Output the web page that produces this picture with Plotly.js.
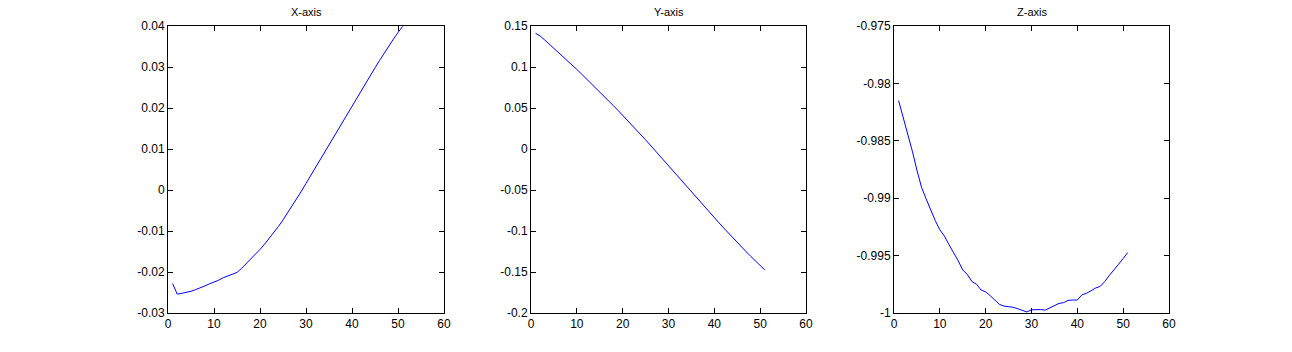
<!DOCTYPE html>
<html>
<head>
<meta charset="utf-8">
<script src="https://cdn.plot.ly/plotly-3.0.1.min.js"></script>
<style>
  html, body { margin: 0; padding: 0; background: #ffffff; }
  #chart { width: 1292px; height: 352px; }
</style>
</head>
<body>
<div id="chart"></div>
<script>
// ---- data ----
const sampleIndex = [1,2,3,4,5,6,7,8,9,10,11,12,13,14,15,16,17,18,19,20,21,22,23,24,25,26,27,28,29,30,31,32,33,34,35,36,37,38,39,40,41,42,43,44,45,46,47,48,49,50,51];

const xAxisValues = [-0.0228,-0.0254,-0.0252,-0.0250,-0.0247,-0.0243,-0.0239,-0.0234,-0.0229,-0.0225,
  -0.0220,-0.0214,-0.0210,-0.0205,-0.0201,-0.0191,-0.0180,-0.0169,-0.0157,-0.0145,
  -0.0132,-0.0118,-0.0104,-0.0089,-0.0073,-0.0056,-0.0039,-0.0021,-0.0003,0.0016,
  0.0035,0.0054,0.0073,0.0092,0.0111,0.0130,0.0149,0.0168,0.0187,0.0206,
  0.0225,0.0244,0.0262,0.0280,0.0298,0.0316,0.0334,0.0351,0.0368,0.0384,0.0399];

const yAxisValues = [0.1411,0.1378,0.1329,0.1279,0.1229,0.1178,0.1127,0.1075,0.1023,0.0970,
  0.0916,0.0862,0.0807,0.0752,0.0696,0.0640,0.0584,0.0527,0.0470,0.0412,
  0.0354,0.0295,0.0235,0.0174,0.0112,0.0049,-0.0015,-0.0079,-0.0143,-0.0207,
  -0.0270,-0.0333,-0.0396,-0.0459,-0.0522,-0.0585,-0.0648,-0.0711,-0.0774,-0.0837,
  -0.0899,-0.0961,-0.1022,-0.1082,-0.1141,-0.1199,-0.1256,-0.1312,-0.1367,-0.1421,-0.1475];

const zAxisValues = [-0.98150,-0.98300,-0.98425,-0.98590,-0.98755,-0.98905,-0.99005,-0.99105,-0.99195,-0.99275,
  -0.99330,-0.99405,-0.99470,-0.99545,-0.99625,-0.99665,-0.99726,-0.99749,-0.99800,-0.99816,
  -0.99850,-0.99885,-0.99925,-0.99940,-0.99942,-0.99950,-0.99963,-0.99978,-0.99991,-0.99972,
  -0.99969,-0.99970,-0.99975,-0.99955,-0.99932,-0.99916,-0.99910,-0.99890,-0.99887,-0.99887,
  -0.99842,-0.99828,-0.99806,-0.99782,-0.99768,-0.99725,-0.99672,-0.99628,-0.99575,-0.99525,-0.99473];

const panelTitles = ["X-axis", "Y-axis", "Z-axis"];

const xTickVals = [0,10,20,30,40,50,60];
const xTickText = ["0","10","20","30","40","50","60"];

const y1TickVals = [-0.03,-0.02,-0.01,0,0.01,0.02,0.03,0.04];
const y1TickText = ["-0.03","-0.02","-0.01","0","0.01","0.02","0.03","0.04"];
const y2TickVals = [-0.2,-0.15,-0.1,-0.05,0,0.05,0.1,0.15];
const y2TickText = ["-0.2","-0.15","-0.1","-0.05","0","0.05","0.1","0.15"];
const y3TickVals = [-1,-0.995,-0.99,-0.985,-0.98,-0.975];
const y3TickText = ["-1","-0.995","-0.99","-0.985","-0.98","-0.975"];

// ---- layout ----
const W = 1292, H = 352;
const font = {family: "Liberation Sans, Arial, sans-serif", size: 12, color: "#000"};
const domains = [[168/W, 444/W], [531/W, 806/W], [894/W, 1169/W]];
const yDom = [1 - 313/H, 1 - 26/H];

function xa(d) {
  return {domain: d, range: [0, 60], tickvals: xTickVals, ticktext: xTickText,
    ticks: "inside", ticklen: 5, tickcolor: "#000", tickwidth: 1,
    showline: true, linecolor: "#000", linewidth: 1, mirror: "ticks",
    showgrid: false, zeroline: false, tickfont: font, fixedrange: true};
}
function ya(anchor, r, tv, tt) {
  return {domain: yDom, anchor: anchor, range: r, tickvals: tv, ticktext: tt,
    ticks: "inside", ticklen: 5, tickcolor: "#000", tickwidth: 1,
    showline: true, linecolor: "#000", linewidth: 1, mirror: "ticks",
    showgrid: false, zeroline: false, tickfont: font, fixedrange: true};
}

const series = [xAxisValues, yAxisValues, zAxisValues];
const traces = series.map((vals, i) => ({
  type: "scatter", mode: "lines", x: sampleIndex, y: vals,
  xaxis: i === 0 ? "x" : "x" + (i + 1),
  yaxis: i === 0 ? "y" : "y" + (i + 1),
  line: {color: "#0000ff", width: 1}, hoverinfo: "skip", showlegend: false
}));

const layout = {
  width: W, height: H,
  margin: {l: 0, r: 0, t: 0, b: 0},
  paper_bgcolor: "#ffffff", plot_bgcolor: "#ffffff",
  font: font, showlegend: false,
  xaxis: Object.assign(xa(domains[0]), {anchor: "y"}),
  xaxis2: Object.assign(xa(domains[1]), {anchor: "y2"}),
  xaxis3: Object.assign(xa(domains[2]), {anchor: "y3"}),
  yaxis: ya("x", [-0.03, 0.04], y1TickVals, y1TickText),
  yaxis2: ya("x2", [-0.2, 0.15], y2TickVals, y2TickText),
  yaxis3: ya("x3", [-1, -0.975], y3TickVals, y3TickText),
  annotations: panelTitles.map((t, i) => ({
    text: t, xref: "paper", yref: "paper",
    x: (domains[i][0] + domains[i][1]) / 2, y: 1 - 12/H,
    xanchor: "center", yanchor: "middle", showarrow: false,
    font: {family: font.family, size: 11, color: "#000"}
  }))
};

Plotly.newPlot("chart", traces, layout, {staticPlot: true, displayModeBar: false});
</script>
</body>
</html>
